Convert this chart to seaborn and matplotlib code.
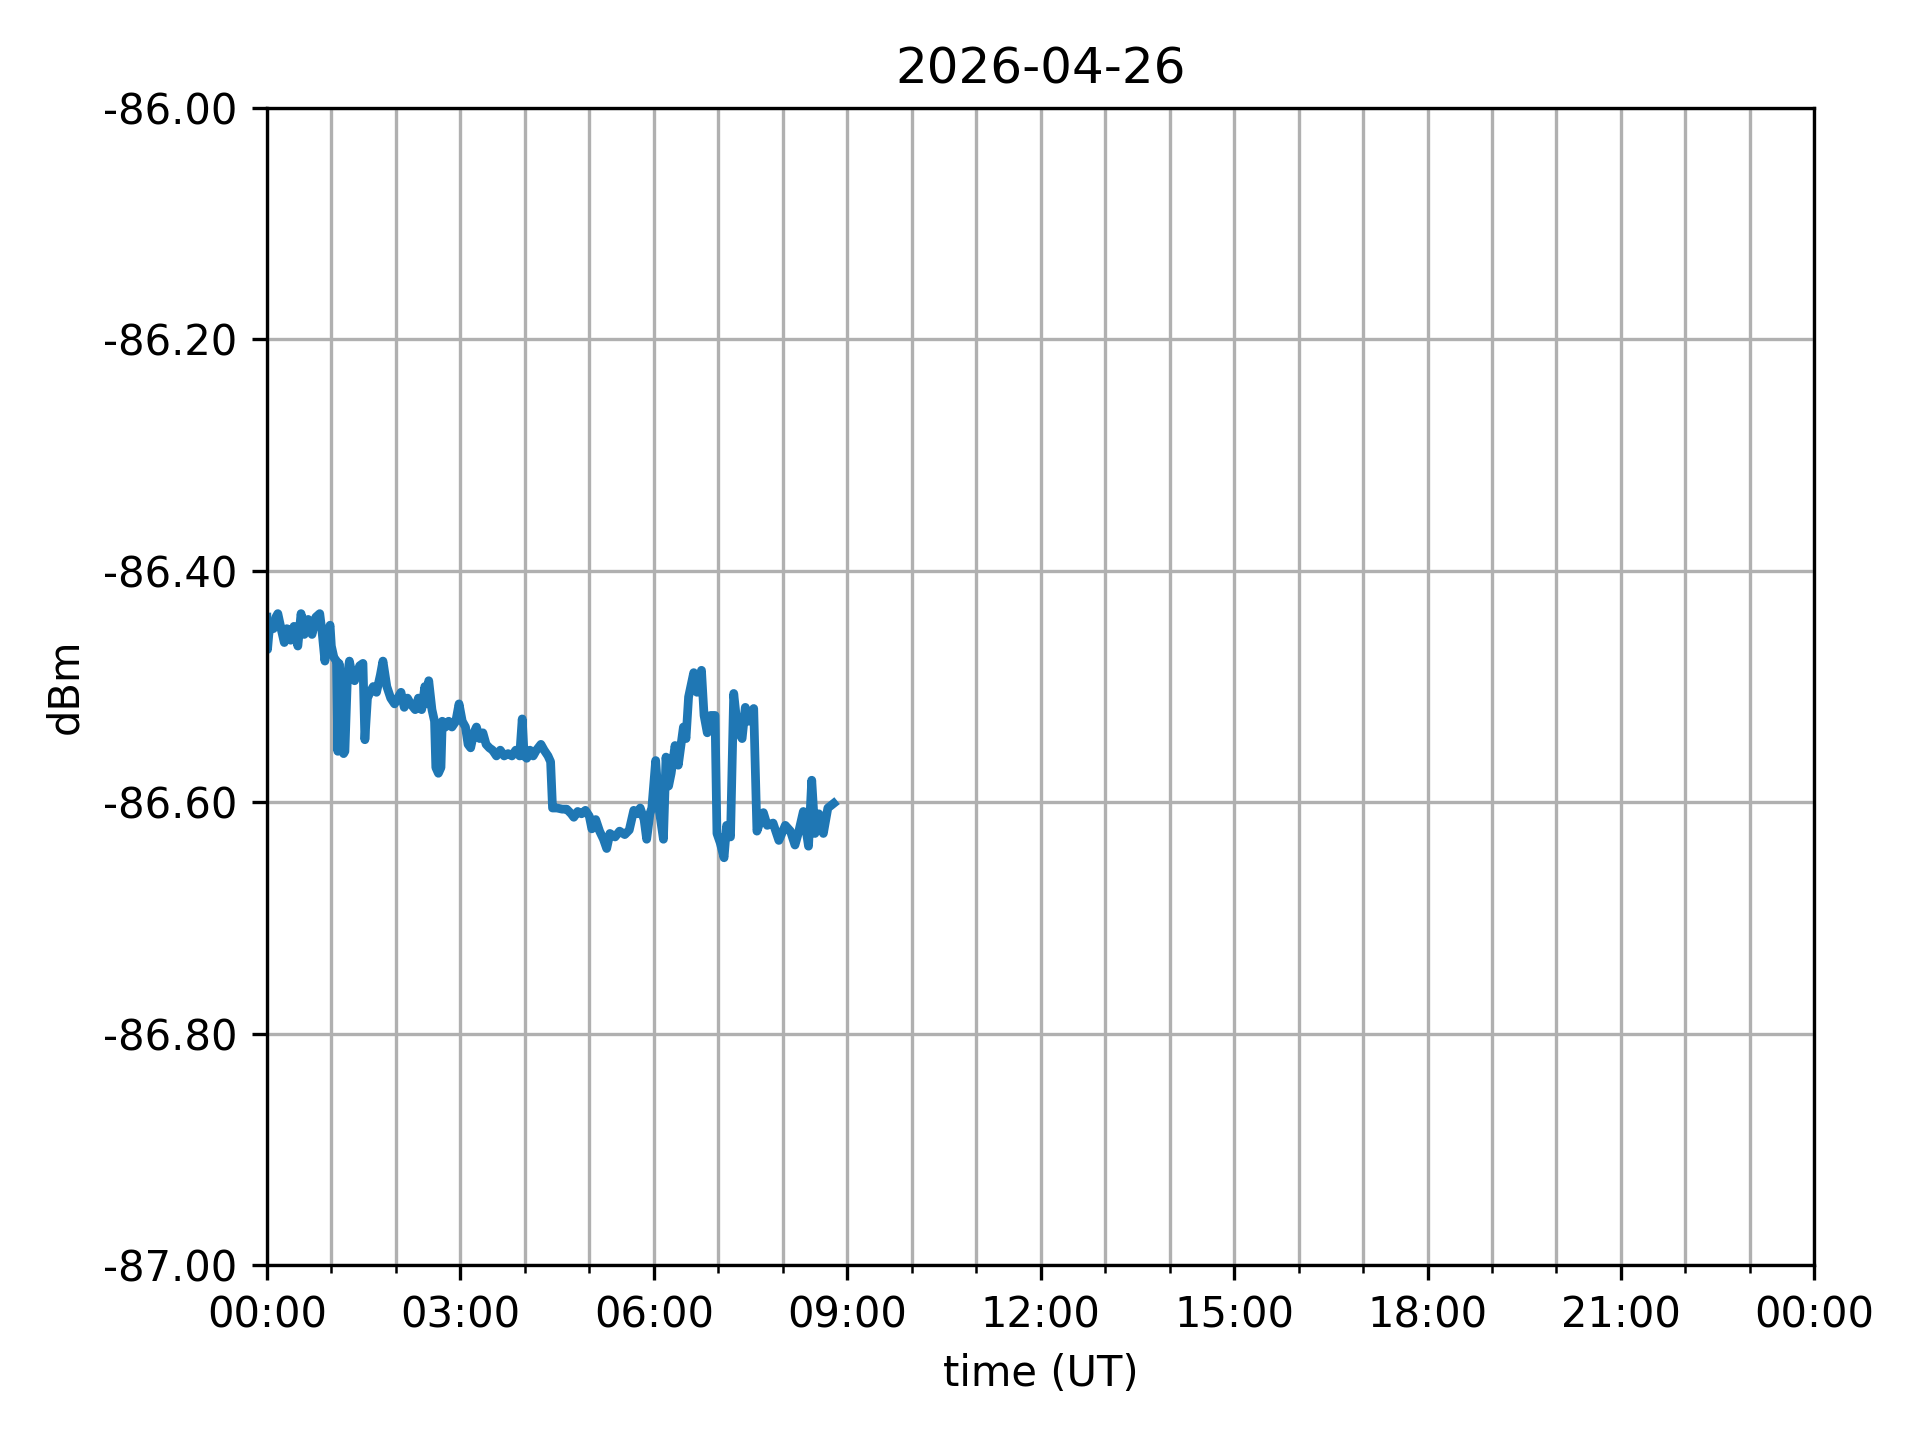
import numpy as np
import pandas as pd
import matplotlib
matplotlib.use("Agg")
import matplotlib.pyplot as plt
import matplotlib.dates as mdates
import matplotlib.ticker as mticker
import seaborn as sns

day_label = "2026-04-26"

# hours after midnight (UT)
hours = [
    0.00, 0.01, 0.03, 0.06, 0.10, 0.14, 0.17, 0.22, 0.27, 0.31, 0.37, 0.42, 0.48, 0.53,
    0.58, 0.64, 0.70, 0.76, 0.82, 0.86, 0.90, 0.94, 0.98, 1.00, 1.04, 1.08, 1.10, 1.12,
    1.15, 1.17, 1.19, 1.21, 1.25, 1.28, 1.32, 1.36, 1.40, 1.44, 1.49, 1.52, 1.56, 1.60,
    1.65, 1.70, 1.76, 1.80, 1.86, 1.92, 1.98, 2.03, 2.08, 2.13, 2.18, 2.23, 2.30, 2.35,
    2.40, 2.45, 2.48, 2.51, 2.56, 2.60, 2.62, 2.66, 2.70, 2.72, 2.77, 2.82, 2.87, 2.93,
    2.98, 3.03, 3.08, 3.12, 3.16, 3.21, 3.25, 3.30, 3.35, 3.40, 3.45, 3.50, 3.56, 3.62,
    3.68, 3.74, 3.80, 3.86, 3.92, 3.96, 3.99, 4.03, 4.08, 4.13, 4.18, 4.25, 4.30, 4.36,
    4.40, 4.43, 4.50, 4.58, 4.65, 4.72, 4.76, 4.82, 4.88, 4.94, 5.00, 5.04, 5.10, 5.16,
    5.22, 5.27, 5.32, 5.40, 5.47, 5.55, 5.62, 5.69, 5.75, 5.79, 5.85, 5.89, 5.94, 5.97,
    6.03, 6.08, 6.15, 6.19, 6.23, 6.27, 6.33, 6.38, 6.46, 6.50, 6.54, 6.62, 6.67, 6.74,
    6.78, 6.83, 6.88, 6.95, 6.98, 7.03, 7.09, 7.13, 7.19, 7.24, 7.30, 7.37, 7.42, 7.47,
    7.55, 7.60, 7.66, 7.70, 7.76, 7.85, 7.94, 8.04, 8.12, 8.19, 8.25, 8.32, 8.40, 8.45,
    8.50, 8.56, 8.63, 8.70, 8.79,
]

dbm = [
    -86.440, -86.468, -86.455, -86.445, -86.450, -86.440, -86.437, -86.450, -86.462, -86.450,
    -86.460, -86.448, -86.465, -86.437, -86.455, -86.442, -86.455, -86.440, -86.437, -86.455,
    -86.478, -86.455, -86.447, -86.465, -86.475, -86.478, -86.556, -86.480, -86.555, -86.500,
    -86.558, -86.556, -86.490, -86.478, -86.490, -86.495, -86.488, -86.482, -86.480, -86.546,
    -86.510, -86.505, -86.500, -86.505, -86.490, -86.478, -86.500, -86.510, -86.515, -86.510,
    -86.505, -86.518, -86.510, -86.515, -86.520, -86.510, -86.520, -86.500, -86.515, -86.495,
    -86.520, -86.530, -86.570, -86.575, -86.570, -86.530, -86.535, -86.530, -86.535, -86.530,
    -86.515, -86.530, -86.535, -86.550, -86.553, -86.540, -86.535, -86.545, -86.540, -86.550,
    -86.553, -86.555, -86.560, -86.555, -86.560, -86.558, -86.560, -86.555, -86.560, -86.528,
    -86.560, -86.562, -86.555, -86.560, -86.555, -86.550, -86.555, -86.560, -86.565, -86.605,
    -86.605, -86.606, -86.606, -86.610, -86.613, -86.608, -86.610, -86.607, -86.612, -86.623,
    -86.615, -86.625, -86.632, -86.640, -86.627, -86.630, -86.625, -86.628, -86.624, -86.607,
    -86.610, -86.605, -86.615, -86.632, -86.610, -86.605, -86.564, -86.605, -86.632, -86.561,
    -86.586, -86.575, -86.551, -86.568, -86.535, -86.545, -86.509, -86.488, -86.505, -86.486,
    -86.525, -86.540, -86.525, -86.525, -86.627, -86.635, -86.648, -86.620, -86.630, -86.506,
    -86.537, -86.545, -86.518, -86.530, -86.519, -86.625, -86.615, -86.609, -86.620, -86.618,
    -86.633, -86.620, -86.625, -86.637, -86.625, -86.608, -86.638, -86.581, -86.627, -86.610,
    -86.627, -86.605, -86.601,
]

start = pd.Timestamp(day_label)
df = pd.DataFrame({
    "time": start + pd.to_timedelta(hours, unit="h"),
    "dbm": dbm,
})

fig, ax = plt.subplots(figsize=(6.4, 4.8), dpi=300)
fig.subplots_adjust(left=0.139, right=0.945, top=0.925, bottom=0.1215)

sns.lineplot(data=df, x="time", y="dbm", ax=ax, color="#1f77b4", linewidth=2.1)

ax.set_xlim(start, start + pd.Timedelta(days=1))
ax.set_ylim(-87.0, -86.0)
ax.xaxis.set_major_locator(mdates.HourLocator(byhour=range(0, 24, 3)))
ax.xaxis.set_minor_locator(mdates.HourLocator())
ax.xaxis.set_major_formatter(mdates.DateFormatter("%H:%M"))
ax.yaxis.set_major_locator(mticker.MultipleLocator(0.2))
ax.yaxis.set_major_formatter(mticker.FormatStrFormatter("%.2f"))

ax.grid(True, which="major", color="#b0b0b0", linewidth=0.8)
ax.grid(True, which="minor", axis="x", color="#b0b0b0", linewidth=0.8)

ax.set_title(day_label)
ax.set_xlabel("time (UT)")
ax.set_ylabel("dBm")

fig.savefig("out.png", dpi=300)
